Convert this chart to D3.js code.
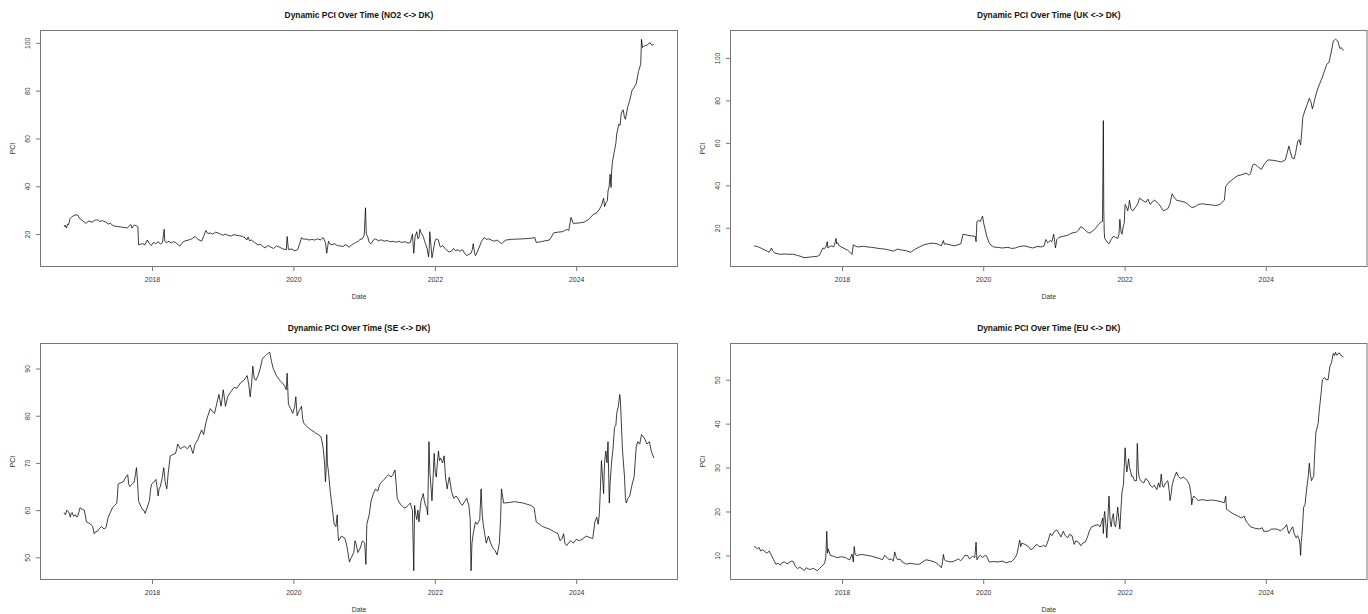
<!DOCTYPE html>
<html><head><meta charset="utf-8">
<script src="https://cdn.jsdelivr.net/npm/d3@7"></script>
<style>body{margin:0;background:#fff}svg{display:block}</style>
</head><body>
<svg id="chart" width="1368" height="614"></svg>
<script>
// ---- data: [decimal year, PCI value] ----
const xTickYears = [2018, 2020, 2022, 2024];

const no2Series = [[2016.756,23.0],[2016.770,23.8],[2016.790,22.5],[2016.805,24.2],[2016.820,24.0],[2016.840,26.5],[2016.857,27.0],[2016.880,27.5],[2016.910,28.0],[2016.949,28.0],[2016.975,26.5],[2017.000,26.0],[2017.041,25.0],[2017.070,24.5],[2017.102,25.5],[2017.150,25.0],[2017.190,25.8],[2017.230,26.0],[2017.260,25.3],[2017.300,25.6],[2017.348,25.0],[2017.380,24.2],[2017.410,24.5],[2017.450,23.5],[2017.500,23.2],[2017.550,23.0],[2017.600,22.8],[2017.650,22.6],[2017.699,24.0],[2017.717,22.5],[2017.750,23.8],[2017.779,23.5],[2017.800,23.0],[2017.809,15.5],[2017.840,15.8],[2017.870,16.0],[2017.900,15.5],[2017.932,17.5],[2017.960,16.2],[2017.990,15.2],[2018.020,16.5],[2018.050,16.0],[2018.090,16.8],[2018.120,15.8],[2018.148,16.5],[2018.172,22.0],[2018.180,17.0],[2018.209,16.5],[2018.240,17.0],[2018.270,16.2],[2018.300,16.8],[2018.332,16.5],[2018.360,15.8],[2018.393,15.0],[2018.430,16.5],[2018.470,17.2],[2018.516,17.5],[2018.560,18.0],[2018.609,19.0],[2018.650,17.8],[2018.701,17.0],[2018.730,19.0],[2018.762,21.5],[2018.790,20.2],[2018.824,20.5],[2018.860,20.0],[2018.900,20.8],[2018.947,20.3],[2019.000,19.5],[2019.040,20.0],[2019.070,19.5],[2019.120,19.2],[2019.160,19.8],[2019.193,19.5],[2019.240,19.3],[2019.280,19.0],[2019.316,18.5],[2019.340,17.5],[2019.360,18.8],[2019.380,17.2],[2019.408,17.5],[2019.450,16.5],[2019.500,15.5],[2019.530,15.8],[2019.561,15.0],[2019.600,14.2],[2019.640,15.2],[2019.684,14.5],[2019.720,14.0],[2019.760,15.0],[2019.807,14.5],[2019.850,13.8],[2019.900,13.5],[2019.912,19.0],[2019.930,13.5],[2019.970,13.8],[2020.022,13.0],[2020.060,13.5],[2020.090,16.0],[2020.115,18.5],[2020.150,17.8],[2020.176,18.0],[2020.220,17.5],[2020.260,17.8],[2020.299,17.5],[2020.340,18.0],[2020.380,17.6],[2020.422,18.5],[2020.453,16.5],[2020.471,12.0],[2020.496,17.0],[2020.520,15.8],[2020.545,15.5],[2020.580,16.0],[2020.620,15.2],[2020.668,15.0],[2020.700,14.8],[2020.740,15.6],[2020.791,14.5],[2020.820,15.5],[2020.852,16.0],[2020.880,16.5],[2020.914,17.0],[2020.940,17.8],[2020.975,18.0],[2021.000,19.5],[2021.018,31.0],[2021.030,20.0],[2021.049,19.0],[2021.070,16.5],[2021.098,16.0],[2021.130,17.5],[2021.160,18.0],[2021.200,17.2],[2021.240,17.6],[2021.283,17.0],[2021.320,17.4],[2021.360,16.8],[2021.406,17.0],[2021.450,16.6],[2021.490,17.0],[2021.529,16.5],[2021.580,16.8],[2021.620,16.2],[2021.652,16.5],[2021.682,20.0],[2021.701,12.0],[2021.720,19.0],[2021.744,21.0],[2021.760,18.0],[2021.775,18.5],[2021.787,22.0],[2021.805,20.5],[2021.836,19.0],[2021.850,17.5],[2021.867,16.0],[2021.890,14.0],[2021.910,10.5],[2021.920,14.0],[2021.928,21.0],[2021.945,15.0],[2021.959,10.1],[2021.977,13.0],[2022.000,17.0],[2022.020,18.0],[2022.051,17.5],[2022.070,15.0],[2022.082,14.5],[2022.110,15.2],[2022.143,14.0],[2022.170,13.2],[2022.205,12.5],[2022.240,13.0],[2022.266,14.0],[2022.290,13.0],[2022.328,13.5],[2022.350,12.8],[2022.389,13.5],[2022.420,12.0],[2022.451,11.0],[2022.480,11.5],[2022.512,12.0],[2022.530,13.5],[2022.543,16.0],[2022.560,12.5],[2022.574,11.0],[2022.600,12.5],[2022.635,15.0],[2022.660,17.0],[2022.697,18.5],[2022.730,17.8],[2022.758,18.0],[2022.800,17.5],[2022.840,17.0],[2022.881,17.5],[2022.942,16.0],[2023.004,17.5],[2023.080,17.8],[2023.160,17.9],[2023.250,18.0],[2023.330,18.2],[2023.416,18.5],[2023.434,16.5],[2023.500,16.8],[2023.560,17.2],[2023.619,17.5],[2023.650,18.8],[2023.680,20.5],[2023.740,20.8],[2023.803,21.0],[2023.840,21.5],[2023.865,22.0],[2023.895,21.5],[2023.926,27.0],[2023.957,24.5],[2024.030,24.6],[2024.110,25.0],[2024.170,26.0],[2024.234,28.0],[2024.295,29.0],[2024.330,30.5],[2024.356,32.0],[2024.387,35.0],[2024.400,31.5],[2024.418,33.0],[2024.440,34.0],[2024.449,38.0],[2024.465,40.0],[2024.479,45.0],[2024.492,39.5],[2024.500,46.0],[2024.510,50.0],[2024.541,55.0],[2024.560,58.0],[2024.572,62.0],[2024.602,66.0],[2024.620,65.5],[2024.633,70.0],[2024.650,71.5],[2024.664,72.0],[2024.680,69.0],[2024.695,68.0],[2024.725,73.0],[2024.756,76.0],[2024.787,80.0],[2024.820,81.5],[2024.848,83.0],[2024.879,88.0],[2024.910,91.0],[2024.922,101.5],[2024.935,98.0],[2024.947,98.5],[2024.975,98.8],[2025.002,99.0],[2025.025,99.8],[2025.045,100.0],[2025.060,99.2],[2025.076,99.0],[2025.097,99.5]];

const ukSeries = [[2016.755,11.5],[2016.790,11.2],[2016.816,11.0],[2016.860,10.3],[2016.909,9.5],[2016.940,9.0],[2016.970,8.5],[2017.001,10.5],[2017.020,9.0],[2017.051,8.0],[2017.090,7.8],[2017.125,7.5],[2017.180,7.7],[2017.248,7.5],[2017.300,7.6],[2017.371,7.0],[2017.420,6.5],[2017.464,5.9],[2017.540,6.2],[2017.618,6.5],[2017.650,6.6],[2017.679,7.0],[2017.700,8.5],[2017.729,10.5],[2017.750,10.2],[2017.772,11.0],[2017.790,13.5],[2017.800,10.5],[2017.815,11.0],[2017.850,11.5],[2017.880,11.0],[2017.895,12.0],[2017.914,15.0],[2017.925,12.5],[2017.938,13.0],[2017.960,11.5],[2017.988,11.0],[2018.020,10.5],[2018.049,10.0],[2018.080,9.5],[2018.111,8.5],[2018.142,7.5],[2018.160,12.0],[2018.200,11.2],[2018.234,11.0],[2018.300,11.3],[2018.358,11.0],[2018.420,10.8],[2018.481,10.5],[2018.540,10.2],[2018.604,10.0],[2018.660,9.6],[2018.727,9.0],[2018.789,10.0],[2018.820,9.7],[2018.851,9.5],[2018.910,9.2],[2018.974,8.5],[2019.030,9.8],[2019.097,11.0],[2019.160,12.0],[2019.221,12.5],[2019.280,12.8],[2019.344,12.5],[2019.380,12.0],[2019.406,11.5],[2019.436,14.0],[2019.450,12.2],[2019.467,12.5],[2019.530,12.0],[2019.591,11.5],[2019.640,12.0],[2019.683,12.5],[2019.714,17.0],[2019.745,16.8],[2019.776,16.5],[2019.830,16.2],[2019.887,16.0],[2019.899,13.5],[2019.911,23.0],[2019.930,23.5],[2019.961,23.0],[2019.975,24.5],[2019.991,25.5],[2020.005,22.5],[2020.022,20.0],[2020.050,16.0],[2020.084,13.0],[2020.110,11.8],[2020.145,11.0],[2020.200,10.8],[2020.269,10.5],[2020.350,10.8],[2020.400,10.3],[2020.454,10.5],[2020.510,11.2],[2020.577,11.5],[2020.640,11.0],[2020.700,10.5],[2020.760,11.2],[2020.824,11.0],[2020.860,11.5],[2020.885,14.5],[2020.910,13.0],[2020.947,14.0],[2020.970,13.5],[2020.996,17.0],[2021.010,13.5],[2021.021,10.5],[2021.040,14.5],[2021.070,15.5],[2021.130,16.0],[2021.194,16.5],[2021.250,17.5],[2021.317,18.0],[2021.350,19.0],[2021.379,20.5],[2021.410,20.0],[2021.440,19.0],[2021.470,18.0],[2021.502,17.5],[2021.550,18.5],[2021.594,20.0],[2021.630,21.5],[2021.656,22.5],[2021.687,23.0],[2021.699,70.5],[2021.705,28.0],[2021.712,18.0],[2021.718,15.0],[2021.740,14.0],[2021.760,13.0],[2021.779,12.5],[2021.810,14.5],[2021.841,16.0],[2021.870,15.5],[2021.903,15.0],[2021.920,17.0],[2021.933,24.0],[2021.950,18.0],[2021.964,17.0],[2021.983,21.0],[2021.995,22.0],[2022.007,31.0],[2022.025,30.0],[2022.044,28.0],[2022.060,30.5],[2022.069,33.0],[2022.090,29.0],[2022.118,28.0],[2022.160,30.0],[2022.190,31.5],[2022.211,34.0],[2022.250,33.0],[2022.303,32.0],[2022.330,33.5],[2022.365,31.0],[2022.400,32.5],[2022.427,33.0],[2022.460,32.0],[2022.488,31.0],[2022.520,29.5],[2022.550,28.0],[2022.580,28.5],[2022.612,29.0],[2022.640,31.0],[2022.673,36.0],[2022.700,34.5],[2022.735,33.0],[2022.800,32.5],[2022.858,32.0],[2022.900,31.0],[2022.951,29.5],[2023.000,30.0],[2023.043,31.0],[2023.100,31.3],[2023.166,31.0],[2023.230,30.8],[2023.290,30.5],[2023.350,31.0],[2023.413,33.0],[2023.432,39.5],[2023.480,41.5],[2023.536,43.0],[2023.600,44.5],[2023.660,45.0],[2023.720,45.8],[2023.760,44.8],[2023.783,45.5],[2023.814,49.5],[2023.845,50.0],[2023.880,49.0],[2023.937,47.5],[2023.980,50.0],[2024.030,52.0],[2024.100,51.8],[2024.153,51.5],[2024.220,51.0],[2024.276,52.0],[2024.300,55.0],[2024.326,58.5],[2024.345,56.0],[2024.369,53.0],[2024.400,52.5],[2024.420,55.0],[2024.449,60.5],[2024.470,61.5],[2024.492,59.0],[2024.510,66.0],[2024.523,72.0],[2024.550,75.0],[2024.584,78.0],[2024.615,81.0],[2024.640,79.0],[2024.658,76.0],[2024.675,78.0],[2024.695,81.0],[2024.710,83.0],[2024.739,86.0],[2024.770,88.5],[2024.800,91.0],[2024.830,94.0],[2024.862,97.0],[2024.893,98.0],[2024.920,102.0],[2024.954,108.0],[2024.985,108.8],[2025.016,108.0],[2025.047,104.5],[2025.070,104.8],[2025.097,103.5]];

const seSeries = [[2016.756,59.5],[2016.775,59.0],[2016.795,60.0],[2016.810,59.7],[2016.826,59.5],[2016.844,58.5],[2016.855,59.2],[2016.869,59.5],[2016.890,58.7],[2016.918,59.0],[2016.935,58.5],[2016.949,58.8],[2016.965,59.5],[2016.980,60.5],[2017.010,60.2],[2017.041,60.0],[2017.060,58.5],[2017.072,57.5],[2017.100,57.3],[2017.133,57.0],[2017.160,56.5],[2017.182,55.0],[2017.200,55.4],[2017.225,55.5],[2017.260,56.2],[2017.287,56.5],[2017.320,56.0],[2017.348,56.3],[2017.380,58.5],[2017.410,59.5],[2017.440,60.5],[2017.471,61.0],[2017.502,61.5],[2017.521,65.5],[2017.560,65.8],[2017.594,66.0],[2017.620,66.8],[2017.656,67.5],[2017.670,65.5],[2017.686,65.0],[2017.720,65.5],[2017.748,66.0],[2017.765,67.5],[2017.779,69.0],[2017.795,66.0],[2017.809,62.0],[2017.840,60.8],[2017.871,60.0],[2017.890,59.8],[2017.902,59.3],[2017.930,60.5],[2017.963,62.0],[2017.980,64.5],[2017.994,65.5],[2018.030,66.0],[2018.055,66.5],[2018.070,65.0],[2018.086,63.0],[2018.100,64.5],[2018.117,65.0],[2018.140,66.5],[2018.166,69.0],[2018.185,66.0],[2018.209,64.5],[2018.230,68.0],[2018.258,71.5],[2018.300,71.8],[2018.332,72.0],[2018.350,73.0],[2018.363,74.0],[2018.400,73.0],[2018.455,73.5],[2018.500,73.0],[2018.540,73.8],[2018.578,72.0],[2018.609,74.0],[2018.650,75.0],[2018.701,77.0],[2018.730,76.0],[2018.762,78.5],[2018.790,80.0],[2018.824,81.5],[2018.850,81.0],[2018.885,80.5],[2018.915,82.5],[2018.947,84.5],[2018.977,82.0],[2019.008,85.5],[2019.039,82.0],[2019.070,84.0],[2019.110,85.0],[2019.162,86.0],[2019.200,85.8],[2019.254,87.0],[2019.300,87.5],[2019.346,88.5],[2019.370,86.5],[2019.389,84.0],[2019.410,87.0],[2019.426,90.5],[2019.445,88.0],[2019.469,87.5],[2019.500,88.5],[2019.531,90.0],[2019.561,92.0],[2019.590,92.5],[2019.623,93.0],[2019.666,93.45],[2019.690,91.5],[2019.715,90.0],[2019.760,88.5],[2019.807,87.5],[2019.840,87.0],[2019.869,86.5],[2019.900,85.5],[2019.912,89.0],[2019.930,82.5],[2019.960,81.5],[2019.992,80.5],[2020.020,82.0],[2020.035,84.0],[2020.053,80.0],[2020.080,81.0],[2020.115,82.0],[2020.130,79.5],[2020.145,78.5],[2020.170,78.0],[2020.207,77.5],[2020.250,77.0],[2020.299,76.5],[2020.350,76.0],[2020.391,75.5],[2020.410,74.0],[2020.422,73.0],[2020.440,70.0],[2020.453,66.0],[2020.462,68.5],[2020.471,76.0],[2020.480,70.0],[2020.496,68.0],[2020.520,64.0],[2020.545,61.0],[2020.560,59.0],[2020.576,57.0],[2020.600,56.5],[2020.619,59.0],[2020.630,55.0],[2020.637,53.5],[2020.680,54.5],[2020.729,54.0],[2020.760,52.0],[2020.791,49.0],[2020.820,50.0],[2020.852,51.0],[2020.870,53.5],[2020.883,53.0],[2020.910,51.0],[2020.945,52.0],[2020.975,53.5],[2021.006,53.0],[2021.024,48.5],[2021.037,57.0],[2021.070,59.0],[2021.098,62.0],[2021.130,63.5],[2021.160,64.5],[2021.190,64.0],[2021.221,65.5],[2021.250,66.0],[2021.283,66.5],[2021.310,67.0],[2021.344,67.5],[2021.380,67.0],[2021.406,67.5],[2021.436,68.5],[2021.450,66.0],[2021.467,62.5],[2021.500,61.5],[2021.529,61.0],[2021.560,60.5],[2021.590,60.5],[2021.620,61.0],[2021.652,61.5],[2021.670,60.5],[2021.682,60.0],[2021.701,47.15],[2021.713,61.0],[2021.730,59.0],[2021.744,58.0],[2021.760,60.0],[2021.775,57.5],[2021.790,60.0],[2021.805,62.0],[2021.836,63.5],[2021.850,62.0],[2021.867,61.0],[2021.885,60.5],[2021.898,59.0],[2021.916,74.5],[2021.930,68.0],[2021.947,64.5],[2021.959,62.0],[2021.975,67.0],[2021.990,72.0],[2022.005,68.0],[2022.020,67.0],[2022.035,70.0],[2022.051,72.5],[2022.065,70.5],[2022.082,71.0],[2022.110,70.0],[2022.131,71.5],[2022.150,67.0],[2022.174,64.5],[2022.190,66.0],[2022.205,67.0],[2022.235,64.0],[2022.266,62.5],[2022.300,63.0],[2022.328,62.5],[2022.360,61.5],[2022.389,61.0],[2022.420,61.8],[2022.451,62.5],[2022.470,61.5],[2022.481,61.0],[2022.500,58.0],[2022.512,47.15],[2022.525,53.0],[2022.543,55.0],[2022.574,57.5],[2022.600,57.0],[2022.635,58.0],[2022.654,64.5],[2022.670,59.0],[2022.684,57.0],[2022.705,55.0],[2022.727,53.0],[2022.758,54.5],[2022.790,53.0],[2022.820,52.0],[2022.850,51.5],[2022.881,50.5],[2022.912,53.0],[2022.930,58.0],[2022.942,64.5],[2022.973,61.5],[2023.050,61.6],[2023.127,61.8],[2023.200,61.6],[2023.250,61.5],[2023.311,61.2],[2023.360,61.0],[2023.404,60.5],[2023.420,59.0],[2023.434,57.5],[2023.480,57.0],[2023.527,56.5],[2023.580,56.2],[2023.619,56.0],[2023.680,55.5],[2023.742,55.0],[2023.772,53.5],[2023.800,54.0],[2023.822,55.0],[2023.840,53.0],[2023.865,52.5],[2023.900,53.2],[2023.926,53.5],[2023.960,53.0],[2024.000,53.8],[2024.049,53.5],[2024.100,54.0],[2024.141,54.5],[2024.190,54.2],[2024.234,54.0],[2024.264,57.5],[2024.290,58.5],[2024.310,57.0],[2024.326,59.0],[2024.340,64.0],[2024.356,70.5],[2024.372,67.0],[2024.387,63.5],[2024.400,70.0],[2024.418,72.5],[2024.435,70.0],[2024.449,74.5],[2024.467,61.5],[2024.480,66.0],[2024.498,70.0],[2024.520,73.0],[2024.541,77.5],[2024.560,78.0],[2024.572,80.5],[2024.595,82.0],[2024.615,84.5],[2024.625,83.0],[2024.633,80.0],[2024.652,73.0],[2024.682,67.0],[2024.695,62.5],[2024.707,61.5],[2024.730,62.5],[2024.756,63.0],[2024.790,65.5],[2024.817,67.0],[2024.848,73.5],[2024.870,74.5],[2024.897,74.0],[2024.922,76.0],[2024.950,75.5],[2024.971,75.0],[2025.000,74.0],[2025.033,74.5],[2025.060,72.5],[2025.097,71.0]];

const euSeries = [[2016.755,12.0],[2016.780,11.8],[2016.804,11.5],[2016.825,11.8],[2016.847,11.0],[2016.878,11.3],[2016.910,10.8],[2016.940,10.5],[2016.970,11.0],[2017.001,10.0],[2017.030,9.0],[2017.063,8.0],[2017.095,8.2],[2017.125,7.8],[2017.155,8.4],[2017.186,8.5],[2017.220,8.1],[2017.248,8.3],[2017.280,8.7],[2017.309,8.6],[2017.340,7.5],[2017.371,7.0],[2017.400,7.3],[2017.433,7.0],[2017.464,6.54],[2017.494,7.2],[2017.525,6.9],[2017.556,6.8],[2017.590,7.1],[2017.618,6.8],[2017.649,6.5],[2017.680,7.0],[2017.710,7.5],[2017.753,8.2],[2017.770,9.5],[2017.784,15.5],[2017.795,10.5],[2017.803,11.5],[2017.820,10.8],[2017.834,10.0],[2017.880,9.8],[2017.926,9.5],[2017.990,9.7],[2018.049,9.5],[2018.080,9.2],[2018.111,9.0],[2018.142,10.3],[2018.160,8.5],[2018.173,12.0],[2018.185,10.3],[2018.203,10.0],[2018.280,10.2],[2018.358,10.0],[2018.420,9.8],[2018.481,9.5],[2018.530,9.3],[2018.573,9.0],[2018.604,10.0],[2018.640,9.5],[2018.666,9.0],[2018.700,9.2],[2018.727,8.7],[2018.746,10.8],[2018.770,9.5],[2018.789,9.0],[2018.820,9.2],[2018.851,8.5],[2018.880,8.3],[2018.912,8.0],[2018.970,8.2],[2019.036,8.0],[2019.097,8.0],[2019.150,8.6],[2019.190,9.0],[2019.250,8.8],[2019.313,8.5],[2019.360,8.0],[2019.406,7.2],[2019.420,8.0],[2019.436,10.2],[2019.450,9.0],[2019.467,8.8],[2019.530,8.5],[2019.591,8.7],[2019.650,9.2],[2019.680,8.8],[2019.714,9.3],[2019.740,10.0],[2019.776,10.0],[2019.806,9.2],[2019.850,9.8],[2019.880,9.5],[2019.899,13.0],[2019.911,9.0],[2019.940,9.8],[2019.961,10.0],[2019.990,9.5],[2020.022,10.0],[2020.050,9.8],[2020.084,8.5],[2020.150,8.6],[2020.207,8.5],[2020.270,8.7],[2020.330,8.3],[2020.370,8.6],[2020.392,8.5],[2020.420,8.9],[2020.454,9.5],[2020.480,10.5],[2020.515,13.5],[2020.530,12.0],[2020.546,12.8],[2020.590,12.5],[2020.639,12.0],[2020.670,11.3],[2020.700,11.5],[2020.730,12.2],[2020.762,12.5],[2020.790,12.0],[2020.824,12.0],[2020.850,12.3],[2020.885,12.0],[2020.920,13.5],[2020.947,15.0],[2020.970,14.5],[2021.009,15.5],[2021.040,15.8],[2021.070,15.0],[2021.100,14.2],[2021.132,15.5],[2021.160,14.5],[2021.194,14.0],[2021.220,14.8],[2021.255,14.5],[2021.270,13.5],[2021.286,12.5],[2021.310,13.3],[2021.348,13.0],[2021.380,12.2],[2021.409,12.8],[2021.440,13.0],[2021.471,14.0],[2021.500,15.5],[2021.533,16.5],[2021.580,16.8],[2021.625,17.0],[2021.650,16.5],[2021.674,17.5],[2021.690,18.5],[2021.699,15.0],[2021.710,19.0],[2021.718,20.0],[2021.735,17.0],[2021.748,14.0],[2021.760,17.5],[2021.779,23.5],[2021.795,18.0],[2021.810,16.5],[2021.825,18.5],[2021.841,19.5],[2021.855,17.0],[2021.872,16.5],[2021.890,19.0],[2021.903,21.0],[2021.920,18.0],[2021.933,16.0],[2021.950,21.0],[2021.964,24.5],[2021.983,26.0],[2021.995,30.0],[2022.007,34.5],[2022.020,31.0],[2022.032,29.0],[2022.045,30.5],[2022.057,32.0],[2022.070,30.0],[2022.088,29.0],[2022.100,28.0],[2022.118,28.0],[2022.140,27.0],[2022.168,27.0],[2022.180,35.5],[2022.195,29.0],[2022.211,27.5],[2022.240,26.8],[2022.272,26.5],[2022.300,27.5],[2022.334,27.0],[2022.360,26.0],[2022.396,25.5],[2022.420,26.0],[2022.457,25.0],[2022.480,26.5],[2022.500,25.5],[2022.519,28.5],[2022.535,26.0],[2022.550,25.5],[2022.580,26.5],[2022.612,27.0],[2022.630,25.0],[2022.643,22.5],[2022.660,24.0],[2022.673,26.0],[2022.700,27.5],[2022.735,29.0],[2022.760,28.0],[2022.797,27.5],[2022.830,27.8],[2022.858,27.5],[2022.890,27.0],[2022.920,26.0],[2022.940,24.0],[2022.951,21.5],[2022.965,23.0],[2022.982,23.5],[2023.010,23.0],[2023.043,22.5],[2023.100,22.7],[2023.166,22.5],[2023.230,22.6],[2023.290,22.5],[2023.350,22.3],[2023.413,22.0],[2023.432,23.5],[2023.444,20.5],[2023.490,20.0],[2023.536,19.5],[2023.600,19.0],[2023.660,18.5],[2023.691,19.0],[2023.720,17.8],[2023.750,17.2],[2023.783,16.5],[2023.840,16.2],[2023.906,16.0],[2023.950,16.3],[2023.970,15.5],[2024.030,15.5],[2024.080,16.0],[2024.153,16.0],[2024.210,15.6],[2024.276,16.5],[2024.295,17.0],[2024.310,15.8],[2024.326,15.0],[2024.360,16.0],[2024.380,16.5],[2024.400,15.0],[2024.430,14.0],[2024.450,14.5],[2024.474,13.5],[2024.485,12.0],[2024.492,10.0],[2024.500,13.0],[2024.510,14.5],[2024.520,17.0],[2024.535,21.0],[2024.554,21.5],[2024.570,24.0],[2024.584,26.0],[2024.600,28.0],[2024.615,31.0],[2024.630,28.5],[2024.646,27.0],[2024.660,27.5],[2024.677,28.0],[2024.690,33.0],[2024.708,38.0],[2024.739,40.0],[2024.755,43.0],[2024.769,45.0],[2024.785,47.5],[2024.800,50.0],[2024.831,50.5],[2024.850,50.0],[2024.880,50.0],[2024.905,53.0],[2024.930,54.0],[2024.954,56.0],[2024.970,55.5],[2024.985,56.26],[2025.000,55.6],[2025.016,55.7],[2025.030,56.1],[2025.047,56.0],[2025.070,55.4],[2025.097,55.2]];

const yTicksNO2 = [20, 40, 60, 80, 100];
const yTicksUK = [20, 40, 60, 80, 100];
const yTicksSE = [50, 60, 70, 80, 90];
const yTicksEU = [10, 20, 30, 40, 50];

// ---- layout ----
const FONT = "'Liberation Sans', Arial, Helvetica, sans-serif";
const panels = [
  {title: "Dynamic PCI Over Time (NO2 <-> DK)", s: no2Series, ticks: yTicksNO2, box: {l: 40.5, r: 677.5, t: 30.5, b: 266.5}},
  {title: "Dynamic PCI Over Time (UK <-> DK)", s: ukSeries, ticks: yTicksUK, box: {l: 730.5, r: 1367, t: 30.5, b: 266.5}},
  {title: "Dynamic PCI Over Time (SE <-> DK)", s: seSeries, ticks: yTicksSE, box: {l: 40.5, r: 677.5, t: 343.5, b: 579.5}},
  {title: "Dynamic PCI Over Time (EU <-> DK)", s: euSeries, ticks: yTicksEU, box: {l: 730.5, r: 1367, t: 343.5, b: 579.5}}
];

function toDate(y) {
  const yr = Math.floor(y);
  const s = Date.UTC(yr, 0, 1), e = Date.UTC(yr + 1, 0, 1);
  return new Date(s + (y - yr) * (e - s));
}

const svg = d3.select("#chart");

panels.forEach(p => {
  const b = p.box;
  const data = p.s.map(([t, v]) => ({d: toDate(t), v: v}));
  const [d0, d1] = d3.extent(data, d => +d.d);
  const dp = (d1 - d0) * 0.04;
  const x = d3.scaleUtc().domain([new Date(d0 - dp), new Date(d1 + dp)]).range([b.l, b.r]);
  const [v0, v1] = d3.extent(data, d => d.v);
  const vp = (v1 - v0) * 0.04;
  const y = d3.scaleLinear().domain([v0 - vp, v1 + vp]).range([b.b, b.t]);

  const g = svg.append("g");

  g.append("path").datum(data)
    .attr("d", d3.line().x(d => x(d.d)).y(d => y(d.v)))
    .attr("fill", "none").attr("stroke", "#000").attr("stroke-width", 0.75)
    .attr("stroke-linejoin", "round");

  g.append("rect").attr("x", b.l).attr("y", b.t).attr("width", b.r - b.l).attr("height", b.b - b.t)
    .attr("fill", "none").attr("stroke", "#777").attr("stroke-width", 1);

  const xa = g.append("g").attr("transform", `translate(0,${b.b})`)
    .call(d3.axisBottom(x).tickValues(xTickYears.map(yy => new Date(Date.UTC(yy, 0, 1))))
      .tickFormat(d3.utcFormat("%Y")).tickSize(4.5).tickPadding(6));
  xa.select(".domain").remove();
  xa.selectAll("line").attr("stroke", "#777");
  xa.selectAll("text").attr("font-family", FONT).attr("font-size", 6.9).attr("fill", "#333");

  const ya = g.append("g").attr("transform", `translate(${b.l},0)`)
    .call(d3.axisLeft(y).tickValues(p.ticks).tickSize(4.5));
  ya.select(".domain").remove();
  ya.selectAll("line").attr("stroke", "#777");
  ya.selectAll("text")
    .attr("font-family", FONT).attr("font-size", 6.9).attr("fill", "#333")
    .attr("transform", "rotate(-90)").attr("x", 0).attr("y", -10.5).attr("dy", 0)
    .attr("text-anchor", "middle");

  g.append("text").attr("x", (b.l + b.r) / 2).attr("y", b.t - 13)
    .attr("text-anchor", "middle").attr("font-family", FONT).attr("font-weight", "bold")
    .attr("font-size", 8.4).attr("fill", "#111").text(p.title);
  g.append("text").attr("x", (b.l + b.r) / 2).attr("y", b.b + 32)
    .attr("text-anchor", "middle").attr("font-family", FONT)
    .attr("font-size", 6.9).attr("fill", "#333").text("Date");
  g.append("text").attr("transform", `translate(${b.l - 26},${(b.t + b.b) / 2}) rotate(-90)`)
    .attr("text-anchor", "middle").attr("font-family", FONT)
    .attr("font-size", 6.9).attr("fill", "#333").text("PCI");
});
</script>
</body></html>
